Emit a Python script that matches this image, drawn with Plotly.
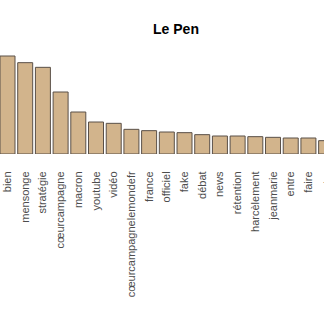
import plotly.graph_objects as go

words = ["bien", "mensonge", "stratégie", "cœurcampagne", "macron", "youtube", "vidéo",
         "cœurcampagnelemondefr", "france", "officiel", "fake", "débat", "news",
         "rétention", "harcèlement", "jeanmarie", "entre", "faire", "contre"]
counts = [147, 137, 130, 93, 63, 48, 46, 37, 35, 33, 32, 29, 27, 27, 26, 25, 24, 24, 20]
title = "Le Pen"

x = list(range(len(words)))

fig = go.Figure(go.Bar(
    x=x, y=counts, width=0.847,
    marker=dict(color="#D2B48C", line=dict(color="#5a5048", width=1)),
))

fig.update_layout(
    width=324, height=324,
    margin=dict(l=0, r=0, t=0, b=170),
    paper_bgcolor="white", plot_bgcolor="white",
    showlegend=False,
    title=dict(text="<b>" + title + "</b>", x=176/324, xanchor="center",
               y=1 - 29/324, yanchor="middle", yref="container",
               font=dict(family="Liberation Sans, Arial", size=14, color="#000")),
    font=dict(family="Liberation Sans, Arial"),
)
fig.update_xaxes(
    range=[-0.424, 17.88], tickmode="array", tickvals=x, ticktext=words,
    tickangle=-90, ticks="outside", ticklen=12, tickcolor="rgba(0,0,0,0)",
    tickfont=dict(size=11, color="#4d4d4d"), showgrid=False, zeroline=False,
    showline=False,
)
fig.update_yaxes(range=[0, 231], visible=False)

fig.add_annotation(
    x=(18 + 0.424) / 18.304, xref="paper", y=-15/154, yref="paper",
    text=words[-1], textangle=-90, showarrow=False, xanchor="center", yanchor="top",
    font=dict(size=11, color="#4d4d4d"),
)

fig.write_html("out.html")
